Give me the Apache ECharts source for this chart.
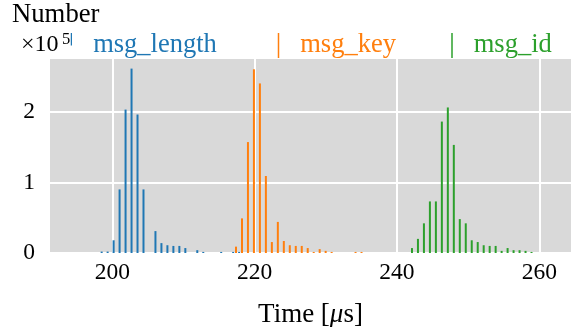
<!DOCTYPE html>
<html>
<head>
<meta charset="utf-8">
<script src="https://cdn.jsdelivr.net/npm/echarts@6/dist/echarts.min.js"></script>
<style>
  html, body { margin: 0; padding: 0; background: #fff; }
  #chart { width: 572px; height: 327px; }
</style>
</head>
<body>
<div id="chart"></div>
<script>
const FONT = "'Liberation Serif', 'DejaVu Serif', serif";

// bin centres [µs] and counts
const lengthTimes = [198.50, 199.34, 200.18, 201.02, 201.86, 202.70, 203.54, 204.38, 206.06, 206.90,
  207.74, 208.58, 209.42, 210.26, 211.94, 212.78, 215.30, 216.98, 217.82];
const lengthCounts = [2000, 2000, 18000, 90000, 203000, 261000, 196000, 90000, 31000, 14000,
  11000, 10000, 10000, 7000, 4000, 1500, 1500, 1500, 1500];

const keyTimes = [217.38, 218.22, 219.06, 219.90, 220.74, 221.58, 222.42, 223.26, 224.10, 224.94,
  225.78, 226.62, 227.46, 228.30, 229.14, 229.98, 230.82, 234.18, 235.02];
const keyCounts = [9000, 49000, 157000, 260000, 240000, 109000, 15500, 44000, 17000, 11000,
  10000, 10000, 7000, 1500, 5500, 3000, 1500, 1500, 1500];

const idTimes = [242.11, 242.95, 243.79, 244.63, 245.47, 246.31, 247.15, 247.99, 248.83, 249.67,
  250.51, 251.35, 252.19, 253.03, 253.87, 254.71, 255.55, 256.39, 257.23, 258.07, 258.91];
const idCounts = [7000, 20000, 42000, 73000, 73000, 186000, 206000, 153000, 48000, 42000,
  18000, 15500, 11000, 10000, 10000, 3000, 7000, 4000, 4000, 3000, 1500];

const seriesNames = ['msg_length', 'msg_key', 'msg_id'];
const seriesColors = ['#1f77b4', '#ff7f0e', '#2ca02c'];
const xTicks = [200, 220, 240, 260];
const yTicks = [0, 100000, 200000];

const pairs = (xs, ys) => xs.map((x, i) => [x, ys[i]]);
const allData = [pairs(lengthTimes, lengthCounts), pairs(keyTimes, keyCounts), pairs(idTimes, idCounts)];

const chart = echarts.init(document.getElementById('chart'), null, { renderer: 'canvas' });

const legendLeft = [70.75, 277.75, 451.25];

const option = {
  animation: false,
  title: [
    { text: 'Number', left: 12, top: 1, padding: 0,
      textStyle: { fontFamily: FONT, fontSize: 26.7, fontWeight: 'normal', color: '#000' } },
    { text: '×10', left: 21, top: 33, padding: 0,
      textStyle: { fontFamily: FONT, fontSize: 24, fontWeight: 'normal', color: '#000' } },
    { text: '5', left: 62, top: 31, padding: 0,
      textStyle: { fontFamily: FONT, fontSize: 16.5, fontWeight: 'normal', color: '#000' } }
  ],
  legend: seriesNames.map((name, i) => ({
    data: [name],
    left: legendLeft[i],
    top: 32,
    padding: 0,
    icon: i === 0 ? 'path://M0 0H1V10H0Z M0 20H1V20H0Z' : 'rect',
    itemWidth: 1.5,
    itemHeight: 25,
    selectedMode: false,
    textStyle: { fontFamily: FONT, fontSize: 26.5, color: seriesColors[i], padding: [0, 0, 0, 16] }
  })),
  grid: {
    left: 49, right: 0, top: 58, bottom: 74,
    outerBoundsMode: 'none',
    containLabel: false,
    show: true, backgroundColor: '#d9d9d9', borderWidth: 0
  },
  xAxis: {
    type: 'value',
    min: 191.1,
    max: 264.6,
    minInterval: 20,
    maxInterval: 20,
    splitNumber: 4,
    axisLine: { show: false },
    axisTick: { show: false },
    splitLine: { show: true, lineStyle: { color: '#fff', width: 2 } },
    axisLabel: {
      margin: 8,
      fontFamily: FONT, fontSize: 23.5, color: '#000',
      formatter: v => (xTicks.includes(v) ? String(v) : '')
    },
    name: 'Time [{i|μ}s]',
    nameLocation: 'middle',
    nameGap: 48,
    nameTextStyle: {
      fontFamily: FONT, fontSize: 27, color: '#000',
      rich: { i: { fontFamily: FONT, fontSize: 27, fontStyle: 'italic', color: '#000' } }
    }
  },
  yAxis: {
    type: 'value',
    min: 0,
    max: 276000,
    interval: 100000,
    axisLine: { show: false },
    axisTick: { show: false },
    splitLine: { show: true, lineStyle: { color: '#fff', width: 2 } },
    axisLabel: {
      margin: 14,
      fontFamily: FONT, fontSize: 23.5, color: '#000',
      formatter: v => (yTicks.includes(v) ? String(v / 100000) : '')
    }
  },
  series: seriesNames.map((name, i) => ({
    name: name,
    type: 'bar',
    data: allData[i],
    barWidth: 2,
    barGap: '-100%',
    itemStyle: { color: seriesColors[i] },
    emphasis: { disabled: true }
  }))
};

chart.setOption(option);
</script>
</body>
</html>
